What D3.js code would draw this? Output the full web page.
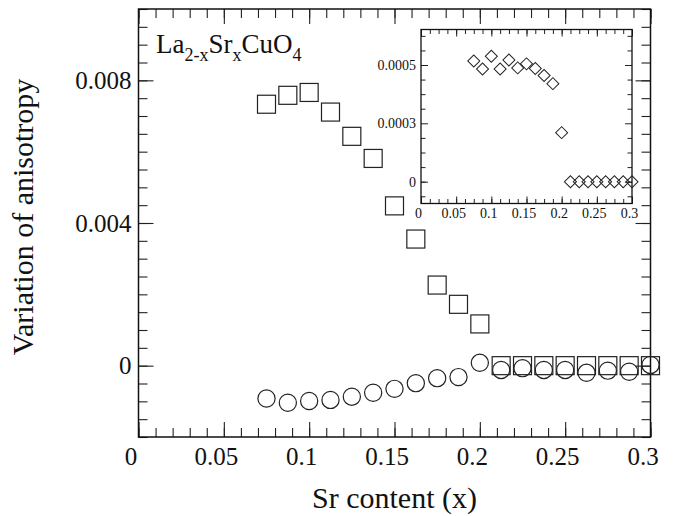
<!DOCTYPE html>
<html>
<head>
<meta charset="utf-8">
<script src="https://cdn.jsdelivr.net/npm/d3@7"></script>
<style>
  body { margin: 0; background: #fff; }
  text { font-family: "Liberation Serif", "Times New Roman", serif; fill: #111; }
</style>
</head>
<body>
<div id="chart"></div>
<script>
var svgWidth = 675;
var svgHeight = 516;

// Sr content (x) for every sample
var srContent = [0.075, 0.0875, 0.1, 0.1125, 0.125, 0.1375, 0.15, 0.1625, 0.175, 0.1875,
                 0.2, 0.2125, 0.225, 0.2375, 0.25, 0.2625, 0.275, 0.2875, 0.3];
// main plot: squares and circles
var squareVals = [0.00733, 0.00758, 0.00766, 0.00711, 0.00643, 0.00581, 0.00448, 0.00355, 0.00226, 0.00172,
                  0.00117, 0, 0, 0, 0, 0, 0, 0, 0];
var circleVals = [-0.00092, -0.00104, -0.00099, -0.00096, -0.00087, -0.00076, -0.00065, -0.00049, -0.00035, -0.00032,
                  0.00008, -0.00012, -0.00007, -0.00012, -0.00012, -0.0002, -0.00014, -0.00017, 0.00002];
// inset: diamonds
var diamondVals = [0.000514, 0.000486, 0.00053, 0.000486, 0.000517, 0.00049, 0.000504, 0.000488, 0.000464, 0.000436,
                   0.000252, 0, 0, 0, 0, 0, 0, 0, 0];

var xTicks = [0, 0.05, 0.1, 0.15, 0.2, 0.25, 0.3];
var yTicks = [0, 0.004, 0.008];
var insetYTicks = [0, 0.0003, 0.0005];

var main = { left: 138.5, right: 650.5, top: 9, bottom: 437 };
var inset = { left: 421, right: 632, top: 29.5, bottom: 203.5 };

var svg = d3.select("#chart")
  .append("svg")
  .attr("width", svgWidth)
  .attr("height", svgHeight);

var xScale = d3.scaleLinear().domain([0, 0.3]).range([main.left, main.right]);
var yScale = d3.scaleLinear().domain([-0.002, 0.010]).range([main.bottom, main.top]);

function drawAxes(g, box, x, y, opt) {
    var xMinor = opt.xMinor, yMinor = opt.yMinor;
    var maj = opt.major, min = opt.minor;

    function clean(sel) {
        sel.select(".domain").remove();
        sel.selectAll("line").attr("stroke", "#222").attr("stroke-width", opt.tickWidth);
    }

    // bottom
    g.append("g").attr("transform", `translate(0,${box.bottom})`)
        .call(d3.axisBottom(x).tickValues(opt.xTicks).tickSize(-maj).tickSizeOuter(0)
            .tickPadding(opt.xPad).tickFormat(d3.format("~g")))
        .call(clean)
        .call(s => s.selectAll("text").attr("font-size", opt.font).attr("dx", opt.xdx)
            .attr("font-family", "Liberation Serif").attr("fill", "#111"));
    g.append("g").attr("transform", `translate(0,${box.bottom})`)
        .call(d3.axisBottom(x).tickValues(xMinor).tickSize(-min).tickSizeOuter(0).tickFormat(""))
        .call(clean);
    // top
    g.append("g").attr("transform", `translate(0,${box.top})`)
        .call(d3.axisTop(x).tickValues(opt.xTicks).tickSize(-maj).tickSizeOuter(0).tickFormat(""))
        .call(clean);
    g.append("g").attr("transform", `translate(0,${box.top})`)
        .call(d3.axisTop(x).tickValues(xMinor).tickSize(-min).tickSizeOuter(0).tickFormat(""))
        .call(clean);
    // left
    g.append("g").attr("transform", `translate(${box.left},0)`)
        .call(d3.axisLeft(y).tickValues(opt.yTicks).tickSize(-maj).tickSizeOuter(0)
            .tickPadding(opt.yPad).tickFormat(d3.format("~g")))
        .call(clean)
        .call(s => s.selectAll("text").attr("font-size", opt.font)
            .attr("font-family", "Liberation Serif").attr("fill", "#111"));
    g.append("g").attr("transform", `translate(${box.left},0)`)
        .call(d3.axisLeft(y).tickValues(yMinor).tickSize(-min).tickSizeOuter(0).tickFormat(""))
        .call(clean);
    // right
    g.append("g").attr("transform", `translate(${box.right},0)`)
        .call(d3.axisRight(y).tickValues(opt.yTicks).tickSize(-maj).tickSizeOuter(0).tickFormat(""))
        .call(clean);
    g.append("g").attr("transform", `translate(${box.right},0)`)
        .call(d3.axisRight(y).tickValues(yMinor).tickSize(-min).tickSizeOuter(0).tickFormat(""))
        .call(clean);

    g.append("rect")
        .attr("x", box.left).attr("y", box.top)
        .attr("width", box.right - box.left).attr("height", box.bottom - box.top)
        .attr("fill", "none").attr("stroke", "#111").attr("stroke-width", opt.boxWidth);
}

var mainGroup = svg.append("g");
drawAxes(mainGroup, main, xScale, yScale, {
    xTicks: xTicks, yTicks: yTicks,
    xMinor: d3.range(0, 0.3001, 0.01), yMinor: d3.range(-0.002, 0.01001, 0.0005),
    major: 15, minor: 9, font: "25px", xPad: 10, yPad: 7, xdx: "-8", tickWidth: 1.1, boxWidth: 1.5
});

// squares
mainGroup.append("g").selectAll("rect")
    .data(srContent.map((x, i) => ({ x: x, y: squareVals[i] })))
    .enter().append("rect")
    .attr("x", d => xScale(d.x) - 9)
    .attr("y", d => yScale(d.y) - 9)
    .attr("width", 18).attr("height", 18)
    .attr("fill", "none").attr("stroke", "#222").attr("stroke-width", 1.2);

// circles
mainGroup.append("g").selectAll("circle")
    .data(srContent.map((x, i) => ({ x: x, y: circleVals[i] })))
    .enter().append("circle")
    .attr("cx", d => xScale(d.x))
    .attr("cy", d => yScale(d.y))
    .attr("r", 8.6)
    .attr("fill", "none").attr("stroke", "#222").attr("stroke-width", 1.2);

// axis titles
svg.append("text")
    .attr("transform", `translate(${(main.left + main.right) / 2}, 508)`)
    .style("text-anchor", "middle")
    .attr("font-size", "30px")
    .text("Sr content (x)");

svg.append("text")
    .attr("transform", "rotate(-90)")
    .attr("x", -217)
    .attr("y", 33)
    .style("text-anchor", "middle")
    .attr("font-size", "30px")
    .text("Variation of anisotropy");

// compound label
var formula = svg.append("text")
    .attr("x", 156)
    .attr("y", 53)
    .attr("font-size", "27px");
formula.append("tspan").text("La");
formula.append("tspan").attr("font-size", "18px").attr("dy", 8).text("2-x");
formula.append("tspan").attr("dy", -8).text("Sr");
formula.append("tspan").attr("font-size", "18px").attr("dy", 8).text("x");
formula.append("tspan").attr("dy", -8).text("CuO");
formula.append("tspan").attr("font-size", "18px").attr("dy", 8).text("4");

// inset
var insetX = d3.scaleLinear().domain([0, 0.3]).range([inset.left, inset.right]);
// the inset's printed labels are not evenly spaced in value, so map piecewise
var insetY = d3.scaleLinear().domain([0, 0.0003, 0.0005]).range([181.7, 123.3, 65]);

var insetGroup = svg.append("g");
insetGroup.append("rect")
    .attr("x", inset.left).attr("y", inset.top)
    .attr("width", inset.right - inset.left).attr("height", inset.bottom - inset.top)
    .attr("fill", "#fff");

drawAxes(insetGroup, inset, insetX, insetY, {
    xTicks: xTicks, yTicks: insetYTicks,
    xMinor: d3.range(0, 0.3001, 0.0125),
    yMinor: d3.range(-0.000075, 0.0003, 0.000075).concat(d3.range(0.00035, 0.00064, 0.00005)),
    major: 7, minor: 4.5, font: "14px", xPad: 5, yPad: 5, xdx: "-3", tickWidth: 1, boxWidth: 1.3
});

var diamond = d3.symbol().type(d3.symbolSquare).size(72);
insetGroup.append("g").selectAll("path")
    .data(srContent.map((x, i) => ({ x: x, y: diamondVals[i] })))
    .enter().append("path")
    .attr("d", diamond)
    .attr("transform", d => `translate(${insetX(d.x)},${insetY(d.y)}) rotate(45)`)
    .attr("fill", "none").attr("stroke", "#222").attr("stroke-width", 1);
</script>
</body>
</html>
